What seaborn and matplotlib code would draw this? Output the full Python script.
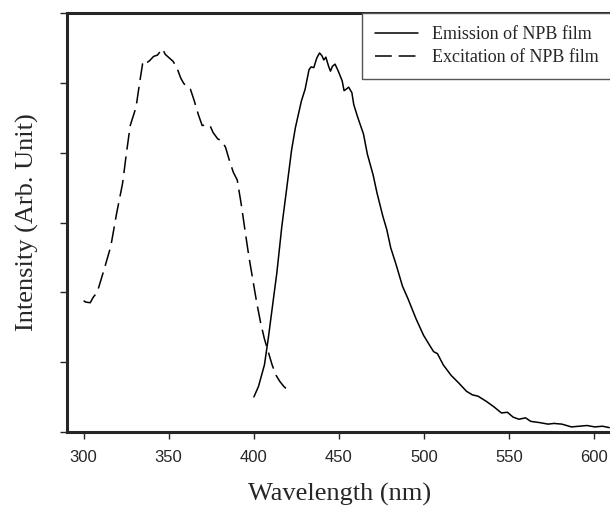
import matplotlib
matplotlib.use("Agg")
import matplotlib.pyplot as plt
import seaborn as sns
import pandas as pd

# Emission spectrum of NPB film (solid)
em_wl = [400.1, 402.8, 406.3, 408.5, 410.8, 413.6, 416.5, 419.5, 422.2, 424.5,
         428.0, 430.2, 432.5, 433.7, 435.3, 437.1, 438.7, 440.1, 441.2, 442.4,
         444.0, 445.1, 446.3, 447.8, 449.7, 452.0, 453.1, 454.3, 455.8, 457.7,
         458.8, 461.1, 464.5, 466.8, 470.2, 472.5, 475.9, 478.2, 480.5, 483.9,
         487.4, 490.8, 495.4, 499.9, 503.4, 505.7, 508.0, 511.4, 516.0, 520.5,
         525.1, 528.5, 531.9, 536.5, 541.1, 545.6, 549.1, 552.5, 555.9, 559.8,
         562.8, 568.5, 573.0, 576.5, 581.1, 586.8, 591.3, 595.9, 600.5, 605.0, 609.0]
em_int = [0.50, 0.65, 0.96, 1.33, 1.76, 2.28, 2.94, 3.51, 4.03, 4.36,
          4.74, 4.91, 5.19, 5.23, 5.22, 5.36, 5.43, 5.39, 5.33, 5.37,
          5.24, 5.17, 5.24, 5.27, 5.17, 5.03, 4.89, 4.91, 4.94, 4.86,
          4.69, 4.51, 4.27, 3.98, 3.68, 3.42, 3.09, 2.90, 2.64, 2.38,
          2.09, 1.90, 1.62, 1.38, 1.24, 1.15, 1.12, 0.96, 0.81, 0.70,
          0.58, 0.53, 0.51, 0.44, 0.36, 0.27, 0.28, 0.21, 0.18, 0.20,
          0.15, 0.13, 0.11, 0.12, 0.11, 0.07, 0.08, 0.09, 0.07, 0.08, 0.06]

# Excitation spectrum of NPB film (dashed)
ex_wl = [300.0, 301.1, 303.9, 305.7, 308.0, 312.1, 316.0, 319.4, 322.9, 325.1,
         327.4, 330.8, 333.1, 334.7, 335.4, 336.6, 338.8, 341.1, 343.4, 345.0,
         346.4, 348.0, 350.3, 352.6, 354.8, 357.1, 358.7, 360.6, 362.8, 365.1,
         367.4, 369.7, 372.0, 374.3, 376.1, 378.8, 381.1, 383.4, 385.7, 388.0,
         390.3, 392.6, 394.8, 397.1, 399.4, 401.7, 404.0, 406.3, 408.5, 410.8,
         413.1, 415.4, 417.7, 420.0]
ex_int = [1.88, 1.86, 1.85, 1.93, 2.00, 2.33, 2.66, 3.13, 3.56, 3.98,
          4.39, 4.65, 5.03, 5.28, 5.31, 5.28, 5.32, 5.38, 5.40, 5.45,
          5.49, 5.41, 5.36, 5.31, 5.22, 5.07, 5.00, 4.94, 4.91, 4.74,
          4.55, 4.39, 4.40, 4.39, 4.29, 4.20, 4.17, 4.08, 3.89, 3.72,
          3.61, 3.27, 2.90, 2.52, 2.19, 1.86, 1.57, 1.33, 1.15, 0.96,
          0.81, 0.72, 0.65, 0.60]

x_ticks = [300, 350, 400, 450, 500, 550, 600]

sns.set_style("ticks")

fig = plt.figure(figsize=(6.1, 5.08), dpi=100)
ax = fig.add_axes([0.110, 0.150, 0.893, 0.824])

em = pd.DataFrame({"wl": em_wl, "I": em_int})
ex = pd.DataFrame({"wl": ex_wl, "I": ex_int})
sns.lineplot(data=em, x="wl", y="I", ax=ax, color="black", lw=1.1,
             label="Emission of NPB film")
sns.lineplot(data=ex, x="wl", y="I", ax=ax, color="black", lw=1.1,
             linestyle=(0, (11, 4.5)), label="Excitation of NPB film")

ax.set_xlim(290.3, 610.5)
ax.set_ylim(0, 6)
ax.set_xticks(x_ticks)
ax.set_yticks(range(0, 7))
ax.set_yticklabels([])
ax.tick_params(axis="x", direction="out", length=5, width=1, pad=8,
               labelsize=12, labelfontfamily="Liberation Sans")
ax.tick_params(axis="y", direction="out", length=5, width=1)
for side in ["left", "bottom", "top"]:
    ax.spines[side].set_linewidth(2.2)
ax.spines["right"].set_visible(False)

ax.set_xlabel("Wavelength (nm)", fontsize=19, family="Liberation Serif", labelpad=13)
ax.set_ylabel("Intensity (Arb. Unit)", fontsize=19, family="Liberation Serif", labelpad=12)

leg = ax.legend(loc="upper right", borderaxespad=0, fancybox=False,
                frameon=True, edgecolor="#555555", framealpha=1,
                prop={"family": "Liberation Serif", "size": 13},
                handlelength=2.4, handletextpad=0.8, borderpad=0.7,
                labelspacing=0.35)
leg.get_frame().set_linewidth(1.0)

fig.savefig("out.png", dpi=100)
